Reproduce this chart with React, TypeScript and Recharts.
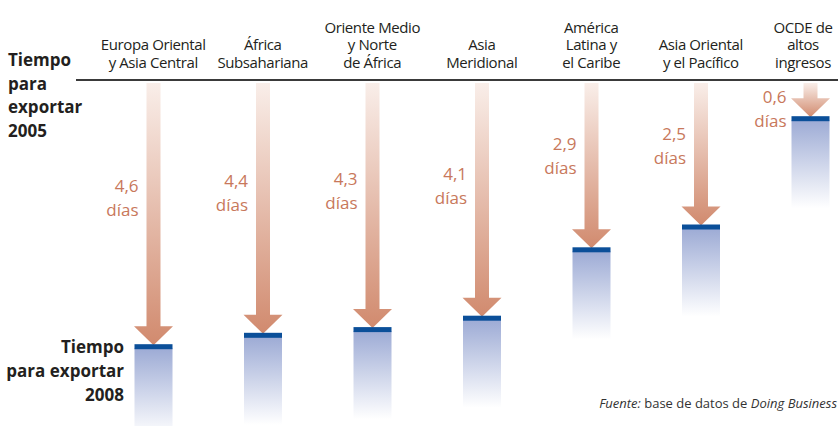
import { Bar, ComposedChart, LabelList, XAxis, YAxis } from "recharts";

const categories = [
  "Europa Oriental\ny Asia Central",
  "África\nSubsahariana",
  "Oriente Medio\ny Norte\nde África",
  "Asia\nMeridional",
  "América\nLatina y\nel Caribe",
  "Asia Oriental\ny el Pacífico",
  "OCDE de\naltos\ningresos",
];
// reduction in days to export, 2005 -> 2008
const daysSaved = [4.6, 4.4, 4.3, 4.1, 2.9, 2.5, 0.6];

const data = categories.map((name, i) => ({ name, days: daysSaved[i] }));

const FONT = "'Open Sans', 'Noto Sans', sans-serif";
const TEXT = "#231f20";
const FADE_PX = 88;

function ArrowBar(props: any) {
  const { x, y, width, height } = props;
  const top = Math.min(y, y + height);
  const bottom = Math.max(y, y + height);
  const cx = x + width / 2;
  const shaft = 14;
  const headH = 19;
  const headW = 39;
  const d = `M${cx - shaft / 2},${top} L${cx + shaft / 2},${top} L${cx + shaft / 2},${bottom - headH} L${cx + headW / 2},${bottom - headH} L${cx},${bottom} L${cx - headW / 2},${bottom - headH} L${cx - shaft / 2},${bottom - headH} Z`;
  return (
    <g>
      <path d={d} fill="url(#arrowGrad)" />
      <rect x={x} y={bottom + 3} width={width} height={FADE_PX} fill="url(#fadeGrad)" />
      <rect x={x} y={bottom - 1} width={width} height={5} fill="#0b4f99" />
    </g>
  );
}

function DaysLabel(props: any) {
  const { x, y, width, height, value } = props;
  const top = Math.min(y, y + height);
  const h = Math.abs(height);
  const cx = x + width / 2;
  const mid = Math.max(top + h * 0.44, top + 26);
  const right = h < 60 ? cx - 24 : cx - 15;
  const txt = Number(value).toFixed(1).replace(".", ",");
  return (
    <text textAnchor="end" fill="#c8785b" fontSize={17} fontFamily={FONT}>
      <tspan x={right} y={mid - 6}>
        {txt}
      </tspan>
      <tspan x={right} y={mid + 18}>
        días
      </tspan>
    </text>
  );
}

function CategoryTick(props: any) {
  const { x, payload } = props;
  const lines = String(payload.value).split("\n");
  // keep the right-most label inside the picture
  const cx = Math.min(x, 803);
  return (
    <text textAnchor="middle" fontSize={15} fill={TEXT} fontFamily={FONT} letterSpacing={-0.4}>
      {lines.map((l, i) => (
        <tspan key={i} x={cx} y={67.5 - (lines.length - 1 - i) * 17.5}>
          {l}
        </tspan>
      ))}
    </text>
  );
}

export default function App() {
  return (
    <div
      style={{
        position: "absolute",
        left: 0,
        top: 0,
        width: 838,
        height: 426,
        overflow: "hidden",
        background: "#fff",
      }}
    >
      <ComposedChart
        width={870}
        height={426}
        data={data}
        margin={{ top: 0, left: 98.5, right: 5, bottom: 1 }}
      >
        <defs>
          <linearGradient id="arrowGrad" x1="0" y1="0" x2="0" y2="1">
            <stop offset="0%" stopColor="#f9eee9" />
            <stop offset="100%" stopColor="#d18a6e" />
          </linearGradient>
          <linearGradient id="fadeGrad" x1="0" y1="0" x2="0" y2="1">
            <stop offset="0%" stopColor="#9dabd5" />
            <stop offset="100%" stopColor="#ffffff" />
          </linearGradient>
        </defs>
        <XAxis
          dataKey="name"
          orientation="top"
          height={83}
          axisLine={false}
          tickLine={false}
          interval={0}
          tick={<CategoryTick />}
        />
        <YAxis hide reversed domain={[0, 6]} />
        <Bar dataKey="days" barSize={38} shape={<ArrowBar />} isAnimationActive={false}>
          <LabelList dataKey="days" content={<DaysLabel />} />
        </Bar>
      </ComposedChart>
      <svg
        width={838}
        height={426}
        style={{ position: "absolute", left: 0, top: 0, pointerEvents: "none" }}
        fontFamily={FONT}
      >
        <rect x={76} y={79} width={762} height={2} fill="#3a3a3a" />
        <text fontSize={17} fontWeight="bold" fill={TEXT}>
          <tspan x={8} y={66}>Tiempo</tspan>
          <tspan x={8} y={89.5}>para</tspan>
          <tspan x={8} y={113}>exportar</tspan>
          <tspan x={8} y={136.5}>2005</tspan>
        </text>
        <text fontSize={17} fontWeight="bold" fill={TEXT} textAnchor="end">
          <tspan x={124} y={353}>Tiempo</tspan>
          <tspan x={124} y={377}>para exportar</tspan>
          <tspan x={124} y={401}>2008</tspan>
        </text>
        <text fontSize={13} fill="#333" textAnchor="end" x={837} y={408}>
          <tspan fontStyle="italic">Fuente:</tspan>
          <tspan> base de datos de </tspan>
          <tspan fontStyle="italic">Doing Business</tspan>
        </text>
      </svg>
    </div>
  );
}
